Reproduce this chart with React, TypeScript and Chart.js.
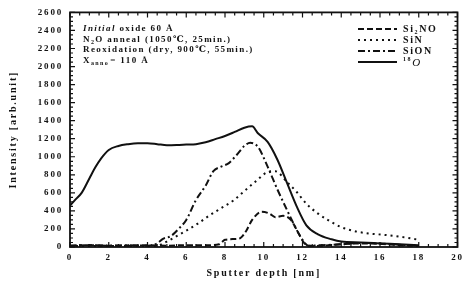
import React, { useEffect, useRef } from "react";
import { Chart, registerables } from "chart.js";
Chart.register(...registerables);

// ---- data ----
const o18Depth = [0, 0.3, 0.6, 1.0, 1.3, 1.6, 2.0, 2.5, 3.0, 3.5, 4.0, 4.5, 5.0, 5.5, 6.0, 6.5, 7.0, 7.5, 8.0, 8.5, 9.0, 9.4, 9.7, 10.2, 10.7, 11.2, 11.7, 12.2, 12.8, 13.5, 14.0, 15.0, 16.0, 17.0, 18.0];
const o18Values = [460, 530, 600, 760, 880, 980, 1075, 1120, 1140, 1150, 1150, 1140, 1128, 1130, 1135, 1140, 1160, 1195, 1230, 1275, 1322, 1338, 1260, 1165, 970, 710, 450, 240, 140, 85, 60, 50, 40, 30, 20];

const sionDepth = [0, 1, 2, 3, 4, 4.5, 4.8, 5.2, 5.6, 6.0, 6.5, 7.0, 7.4, 7.8, 8.2, 8.6, 9.0, 9.3, 9.7, 10.2, 10.7, 11.2, 11.7, 12.0, 12.3, 13, 14, 15, 16, 17, 18];
const sionValues = [15, 20, 15, 20, 15, 40, 90, 120, 200, 300, 520, 680, 840, 890, 930, 1020, 1120, 1155, 1110, 890, 640, 410, 190, 80, 15, 20, 30, 45, 40, 25, 15];

const sinDepth = [0, 2, 4, 4.6, 5.0, 5.5, 6.0, 6.6, 7.2, 7.8, 8.4, 9.0, 9.6, 10.2, 10.6, 11.2, 11.7, 12.2, 12.8, 13.3, 14.0, 14.6, 15.4, 16.2, 17.0, 18.0];
const sinValues = [10, 10, 10, 20, 60, 120, 180, 260, 350, 430, 510, 620, 730, 830, 840, 720, 610, 480, 370, 300, 220, 180, 150, 135, 115, 80];

const si2noDepth = [0, 1, 2, 3, 4, 5, 6, 7, 7.7, 8.0, 8.6, 8.8, 9.1, 9.4, 9.9, 10.3, 10.6, 11.0, 11.4, 11.8, 12.1, 12.4, 13, 14, 15, 16, 17, 18];
const si2noValues = [15, 20, 15, 15, 20, 15, 20, 20, 30, 80, 90, 100, 180, 300, 390, 370, 330, 345, 300, 150, 40, 10, 15, 30, 40, 35, 20, 10];

const annotationLines = [
  ["Initial", " oxide 60 Å"],
  ["N", "2", "O anneal (1050℃, 25min.)"],
  ["Reoxidation (dry, 900℃, 55min.)"],
  ["X", "anno", "= 110 Å"],
];

const ink = "#111111";
const serif = "'Liberation Serif', 'DejaVu Serif', serif";

function pts(xs: number[], ys: number[]) {
  return xs.map((x, i) => ({ x, y: ys[i] }));
}

const series = [
  { label: "Si2NO", xs: si2noDepth, ys: si2noValues, dash: [6, 3] },
  { label: "SiN", xs: sinDepth, ys: sinValues, dash: [2, 4] },
  { label: "SiON", xs: sionDepth, ys: sionValues, dash: [7, 3, 2, 3] },
  { label: "18O", xs: o18Depth, ys: o18Values, dash: [] as number[] },
];

const spacingPlugin = {
  id: "spacing",
  beforeDraw(chart: any) {
    (chart.ctx as any).letterSpacing = "1.8px";
  },
};

const framePlugin = {
  id: "frame",
  afterDatasetsDraw(chart: any) {
    const ctx = chart.ctx as CanvasRenderingContext2D;
    const { left, right, top, bottom } = chart.chartArea;
    const xs = chart.scales.x;
    const ys = chart.scales.y;
    ctx.save();
    ctx.strokeStyle = ink;
    ctx.lineWidth = 1.8;
    ctx.strokeRect(left, top, right - left, bottom - top);
    ctx.lineWidth = 1.2;
    ctx.beginPath();
    for (let v = 0; v <= 20.001; v += 0.5) {
      const p = xs.getPixelForValue(v);
      const len = Math.abs(v % 2) < 0.01 ? 5 : 3;
      ctx.moveTo(p, bottom);
      ctx.lineTo(p, bottom - len);
      ctx.moveTo(p, top);
      ctx.lineTo(p, top + len);
    }
    for (let v = 0; v <= 2600; v += 50) {
      const p = ys.getPixelForValue(v);
      const len = v % 200 === 0 ? 5 : 3;
      ctx.moveTo(left, p);
      ctx.lineTo(left + len, p);
      ctx.moveTo(right, p);
      ctx.lineTo(right - len, p);
    }
    ctx.stroke();
    ctx.restore();
  },
  afterDraw(chart: any) {
    const ctx = chart.ctx as any;
    ctx.save();
    ctx.fillStyle = ink;
    ctx.textBaseline = "middle";
    ctx.letterSpacing = "1.4px";
    // annotation block
    const ax = 83;
    const rows = [29, 39.5, 50, 60.5];
    const bold = `bold 9px ${serif}`;
    const small = `bold 6px ${serif}`;
    // row 1
    let x = ax;
    ctx.font = `italic bold 9px ${serif}`;
    ctx.fillText(annotationLines[0][0], x, rows[0]);
    x += ctx.measureText(annotationLines[0][0]).width;
    ctx.font = bold;
    ctx.fillText(annotationLines[0][1], x, rows[0]);
    // row 2
    x = ax;
    ctx.font = bold;
    ctx.fillText(annotationLines[1][0], x, rows[1]);
    x += ctx.measureText(annotationLines[1][0]).width;
    ctx.font = small;
    ctx.fillText(annotationLines[1][1], x, rows[1] + 3);
    x += ctx.measureText(annotationLines[1][1]).width;
    ctx.font = bold;
    ctx.fillText(annotationLines[1][2], x, rows[1]);
    // row 3
    ctx.fillText(annotationLines[2][0], ax, rows[2]);
    // row 4
    x = ax;
    ctx.fillText(annotationLines[3][0], x, rows[3]);
    x += ctx.measureText(annotationLines[3][0]).width;
    ctx.font = small;
    ctx.fillText(annotationLines[3][1], x, rows[3] + 3);
    x += ctx.measureText(annotationLines[3][1]).width + 1;
    ctx.font = bold;
    ctx.fillText(annotationLines[3][2], x, rows[3]);

    // legend
    const lx0 = 358;
    const lx1 = 397;
    const tx = 403;
    const lrows = [29, 40, 51, 62];
    ctx.letterSpacing = "1.6px";
    series.forEach((s, i) => {
      const y = lrows[i];
      ctx.beginPath();
      ctx.setLineDash(s.dash);
      ctx.lineWidth = 2;
      ctx.strokeStyle = ink;
      ctx.moveTo(lx0, y);
      ctx.lineTo(lx1, y);
      ctx.stroke();
      ctx.setLineDash([]);
      const big = `bold 10px ${serif}`;
      const sm = `bold 6px ${serif}`;
      let x = tx;
      if (s.label === "Si2NO") {
        ctx.font = big;
        ctx.fillText("Si", x, y);
        x += ctx.measureText("Si").width;
        ctx.font = sm;
        ctx.fillText("2", x, y + 3);
        x += ctx.measureText("2").width;
        ctx.font = big;
        ctx.fillText("NO", x, y);
      } else if (s.label === "18O") {
        ctx.font = sm;
        ctx.fillText("18", x, y - 3);
        x += ctx.measureText("18").width;
        ctx.font = `italic 11px ${serif}`;
        ctx.fillText("O", x, y + 1);
      } else {
        ctx.font = big;
        ctx.fillText(s.label, x, y);
      }
    });
    ctx.restore();
  },
};

export default function App() {
  const ref = useRef<HTMLCanvasElement | null>(null);
  useEffect(() => {
    document.body.style.margin = "0";
    const canvas = ref.current!;
    const chart = new Chart(canvas, {
      type: "line",
      data: {
        datasets: series.map((s) => ({
          label: s.label,
          data: pts(s.xs, s.ys),
          borderColor: ink,
          borderWidth: 2,
          borderDash: s.dash,
          pointRadius: 0,
          fill: false,
          cubicInterpolationMode: "monotone" as const,
        })),
      },
      options: {
        animation: false,
        responsive: false,
        layout: { padding: { left: 0, right: 6, top: 12, bottom: 0 } },
        plugins: { legend: { display: false }, tooltip: { enabled: false } },
        scales: {
          x: {
            type: "linear",
            min: 0,
            max: 20,
            grid: { display: false, drawTicks: false },
            border: { display: false },
            ticks: {
              stepSize: 2,
              color: ink,
              padding: 5,
              callback: (v: any) => String(v),
              font: { family: serif, size: 9, weight: "bold" },
            },
            title: {
              display: true,
              text: "Sputter depth [nm]",
              color: ink,
              padding: { top: 5, bottom: 5 },
              font: { family: serif, size: 10, weight: "bold" },
            },
            afterFit: (s: any) => {
              s.height = 37;
            },
          },
          y: {
            min: 0,
            max: 2600,
            grid: { display: false, drawTicks: false },
            border: { display: false },
            ticks: {
              stepSize: 200,
              color: ink,
              padding: 7,
              callback: (v: any) => String(v),
              font: { family: serif, size: 9, weight: "bold" },
            },
            title: {
              display: true,
              text: "Intensity [arb.unit]",
              color: ink,
              padding: { top: 7, bottom: 7 },
              font: { family: serif, size: 10, weight: "bold" },
            },
            afterFit: (s: any) => {
              s.width = 70;
            },
          },
        },
      },
      plugins: [spacingPlugin, framePlugin],
    });
    return () => chart.destroy();
  }, []);
  return (
    <div style={{ width: 467, height: 284 }}>
      <canvas ref={ref} width={467} height={284} style={{ display: "block" }} />
    </div>
  );
}
